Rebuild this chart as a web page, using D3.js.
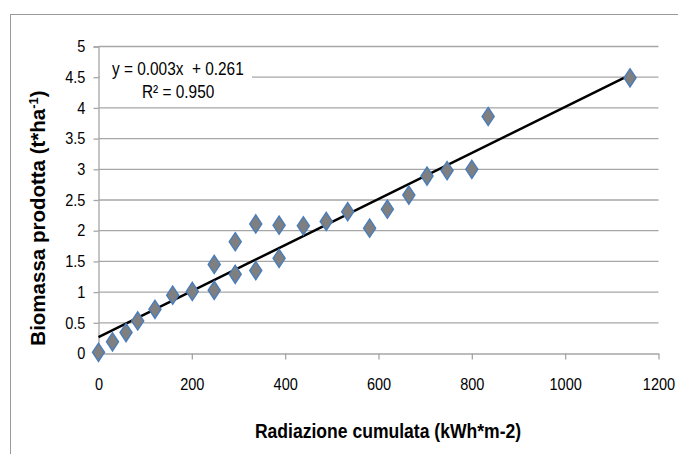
<!DOCTYPE html>
<html>
<head>
<meta charset="utf-8">
<script src="https://cdn.jsdelivr.net/npm/d3@7"></script>
<style>
  body { margin: 0; background: #fff; }
  svg { display: block; }
  text { font-family: "Liberation Sans", Arial, sans-serif; }
</style>
</head>
<body>
<svg width="678" height="454"></svg>
<script>
// radiazione cumulata (kWh*m-2) vs biomassa prodotta (t*ha-1)
var radiazione = [0, 30, 59, 84, 121, 159, 201, 248, 248, 293, 293, 337, 337, 387, 387,
                  439, 488, 534, 581, 619, 665, 704, 747, 800, 835, 1139];
var biomassa   = [0.02, 0.19, 0.34, 0.53, 0.72, 0.95, 1.01, 1.45, 1.03, 1.82, 1.29, 2.11, 1.35, 2.09, 1.55,
                  2.08, 2.15, 2.31, 2.04, 2.35, 2.58, 2.89, 2.98, 3.00, 3.86, 4.49];
var xTicks = [0, 200, 400, 600, 800, 1000, 1200];
var yTicks = [0, 0.5, 1, 1.5, 2, 2.5, 3, 3.5, 4, 4.5, 5];
var equazione = "y = 0.003x  + 0.261";
var r2 = "R² = 0.950";

var svg = d3.select("svg"),
    width = +svg.attr("width"),
    height = +svg.attr("height");

var grigio = "#a6a6a6";

// cornice esterna
svg.append("rect")
    .attr("x", 10.5).attr("y", 14.5)
    .attr("width", 700).attr("height", 500)
    .attr("fill", "none").attr("stroke", "#9a9a9a");

var x = d3.scaleLinear().domain([0, 1200]).range([98.5, 658.5]);
var y = d3.scaleLinear().domain([0, 5]).range([353.5, 46.5]);

// griglia
svg.append("g")
    .selectAll("line")
    .data(yTicks.filter(function(d) { return d > 0; }))
    .enter().append("line")
    .attr("x1", x(0)).attr("x2", x(1200))
    .attr("y1", function(d) { return y(d); })
    .attr("y2", function(d) { return y(d); })
    .attr("stroke", grigio).attr("stroke-width", 1.3);

// asse y
var yAxis = svg.append("g")
    .attr("transform", "translate(" + x(0) + ",0)")
    .call(d3.axisLeft(y).tickValues(yTicks).tickSize(5).tickPadding(10)
        .tickFormat(function(d) { return d; }));
yAxis.select(".domain").attr("stroke", grigio).attr("stroke-width", 1.3);
yAxis.selectAll(".tick line").attr("stroke", grigio).attr("stroke-width", 1.3);
yAxis.selectAll("text")
    .attr("font-family", null)
    .attr("font-size", 16.5).attr("fill", "#000")
    .attr("transform", "scale(0.88,1)");

// asse x
var xAxis = svg.append("g")
    .attr("transform", "translate(0," + y(0) + ")")
    .call(d3.axisBottom(x).tickValues(xTicks).tickSize(6).tickSizeOuter(0).tickPadding(19)
        .tickFormat(function(d) { return d; }));
xAxis.select(".domain").attr("stroke", grigio).attr("stroke-width", 1.3);
xAxis.selectAll(".tick line").attr("stroke", grigio).attr("stroke-width", 1.3);
xAxis.selectAll("text")
    .attr("font-family", null)
    .attr("font-size", 16.5).attr("fill", "#000")
    .attr("transform", "scale(0.88,1)");

// retta di regressione (minimi quadrati)
var mx = d3.mean(radiazione), my = d3.mean(biomassa);
var sxy = d3.sum(radiazione, function(v, i) { return (v - mx) * (biomassa[i] - my); });
var sxx = d3.sum(radiazione, function(v) { return (v - mx) * (v - mx); });
var b = sxy / sxx, a = my - b * mx;
var xMax = d3.max(radiazione);

svg.append("line")
    .attr("x1", x(0)).attr("y1", y(a))
    .attr("x2", x(xMax)).attr("y2", y(a + b * xMax))
    .attr("stroke", "#000").attr("stroke-width", 2.5);

// punti
var diamante = d3.symbol().type(d3.symbolDiamond).size(95);
svg.append("g")
    .selectAll("path")
    .data(radiazione)
    .enter().append("path")
    .attr("d", diamante)
    .attr("transform", function(d, i) {
        return "translate(" + x(d) + "," + y(biomassa[i]) + ") scale(1.15,1)";
    })
    .attr("fill", "#7f7f7f")
    .attr("stroke", "#4a7ebb")
    .attr("stroke-width", 1.3);

// etichetta equazione
svg.append("rect")
    .attr("x", 100).attr("y", 58).attr("width", 152).attr("height", 44)
    .attr("fill", "#fff");
svg.append("text")
    .attr("transform", "translate(112,75) scale(0.88,1)")
    .attr("font-size", 17.5)
    .attr("xml:space", "preserve")
    .style("white-space", "pre")
    .text(equazione);
svg.append("text")
    .attr("transform", "translate(142,98) scale(0.88,1)")
    .attr("font-size", 17.5)
    .text(r2);

// titoli
svg.append("text")
    .attr("transform", "translate(388,438) scale(0.9,1)")
    .attr("text-anchor", "middle")
    .attr("font-size", 19.5).attr("font-weight", "bold")
    .text("Radiazione cumulata (kWh*m-2)");

var yt = svg.append("text")
    .attr("transform", "translate(45,218) rotate(-90)")
    .attr("text-anchor", "middle")
    .attr("font-size", 20.5).attr("font-weight", "bold");
yt.append("tspan").text("Biomassa prodotta (t*ha");
yt.append("tspan").attr("dy", -7).attr("font-size", 13).text("-1");
yt.append("tspan").attr("dy", 7).text(")");
</script>
</body>
</html>
